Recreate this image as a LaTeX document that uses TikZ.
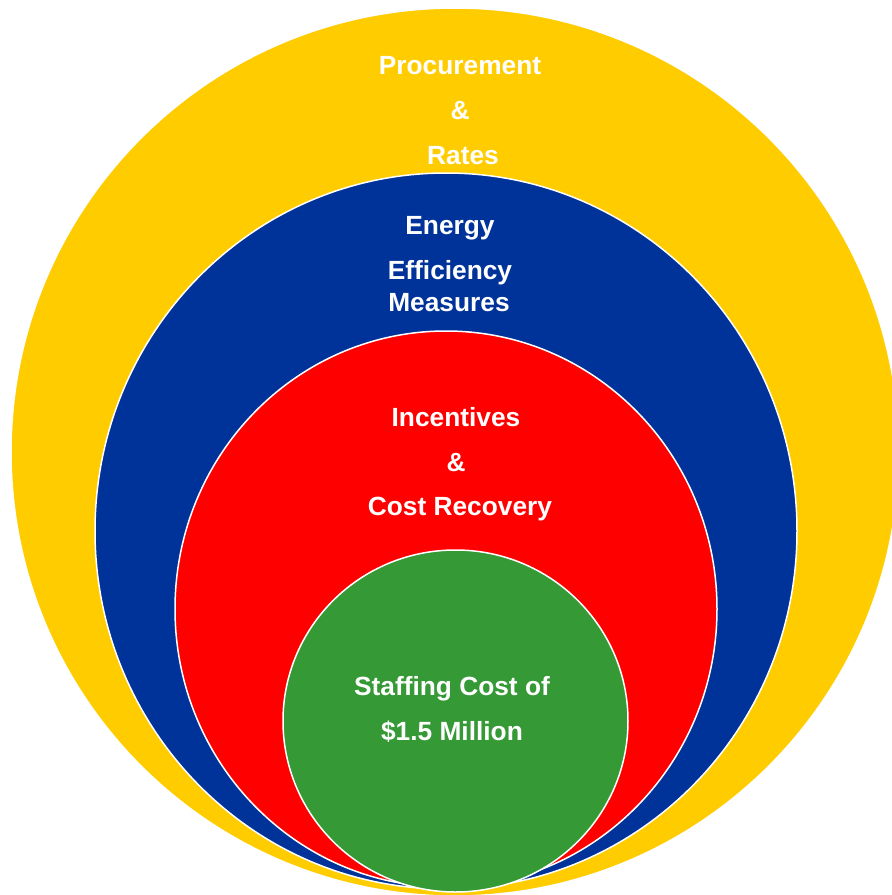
\documentclass[tikz,border=0pt]{standalone}
\usepackage{fontspec}
\setmainfont{Liberation Sans}
\usetikzlibrary{shapes.geometric}
\definecolor{ringyellow}{HTML}{FFCC00}
\definecolor{ringblue}{HTML}{003399}
\definecolor{ringred}{HTML}{FF0000}
\definecolor{ringgreen}{HTML}{359935}
\tikzset{
  ring/.style={ellipse, draw=white, line width=1.5pt, inner sep=0pt},
  label/.style={text=white, font=\fontsize{26.3}{31}\selectfont\bfseries, anchor=base, inner sep=0pt}
}
\begin{document}
\begin{tikzpicture}[x=1pt,y=-1pt]
  \useasboundingbox (0,0) rectangle (892,895);
  \clip (0,0) rectangle (892,895);
  % nested rings, all resting on the same bottom point
  \node[ring, fill=ringyellow, minimum width=888pt, minimum height=888pt] (procurement) at (455,452) {};
  \node[ring, fill=ringblue, minimum width=702pt, minimum height=716pt] (efficiency) at (446,531) {};
  \node[ring, fill=ringred, minimum width=542pt, minimum height=556pt] (incentives) at (446,609) {};
  \node[ring, fill=ringgreen, minimum width=345pt, minimum height=342pt] (staffing) at (455.5,721) {};
  % ring captions
  \node[label] (t1) at (460,74) {Procurement};
  \node[label] (t2) at (460,119) {\&};
  \node[label] (t3) at (463,164) {Rates};
  \node[label] (t4) at (450,234) {Energy};
  \node[label] (t5) at (450,279) {Efficiency};
  \node[label] (t6) at (449,311) {Measures};
  \node[label] (t7) at (456,426) {Incentives};
  \node[label] (t8) at (456,471) {\&};
  \node[label] (t9) at (460,515) {Cost Recovery};
  \node[label] (t10) at (452,695) {Staffing Cost of};
  \node[label] (t11) at (452,740) {\$1.5 Million};
\end{tikzpicture}
\end{document}
